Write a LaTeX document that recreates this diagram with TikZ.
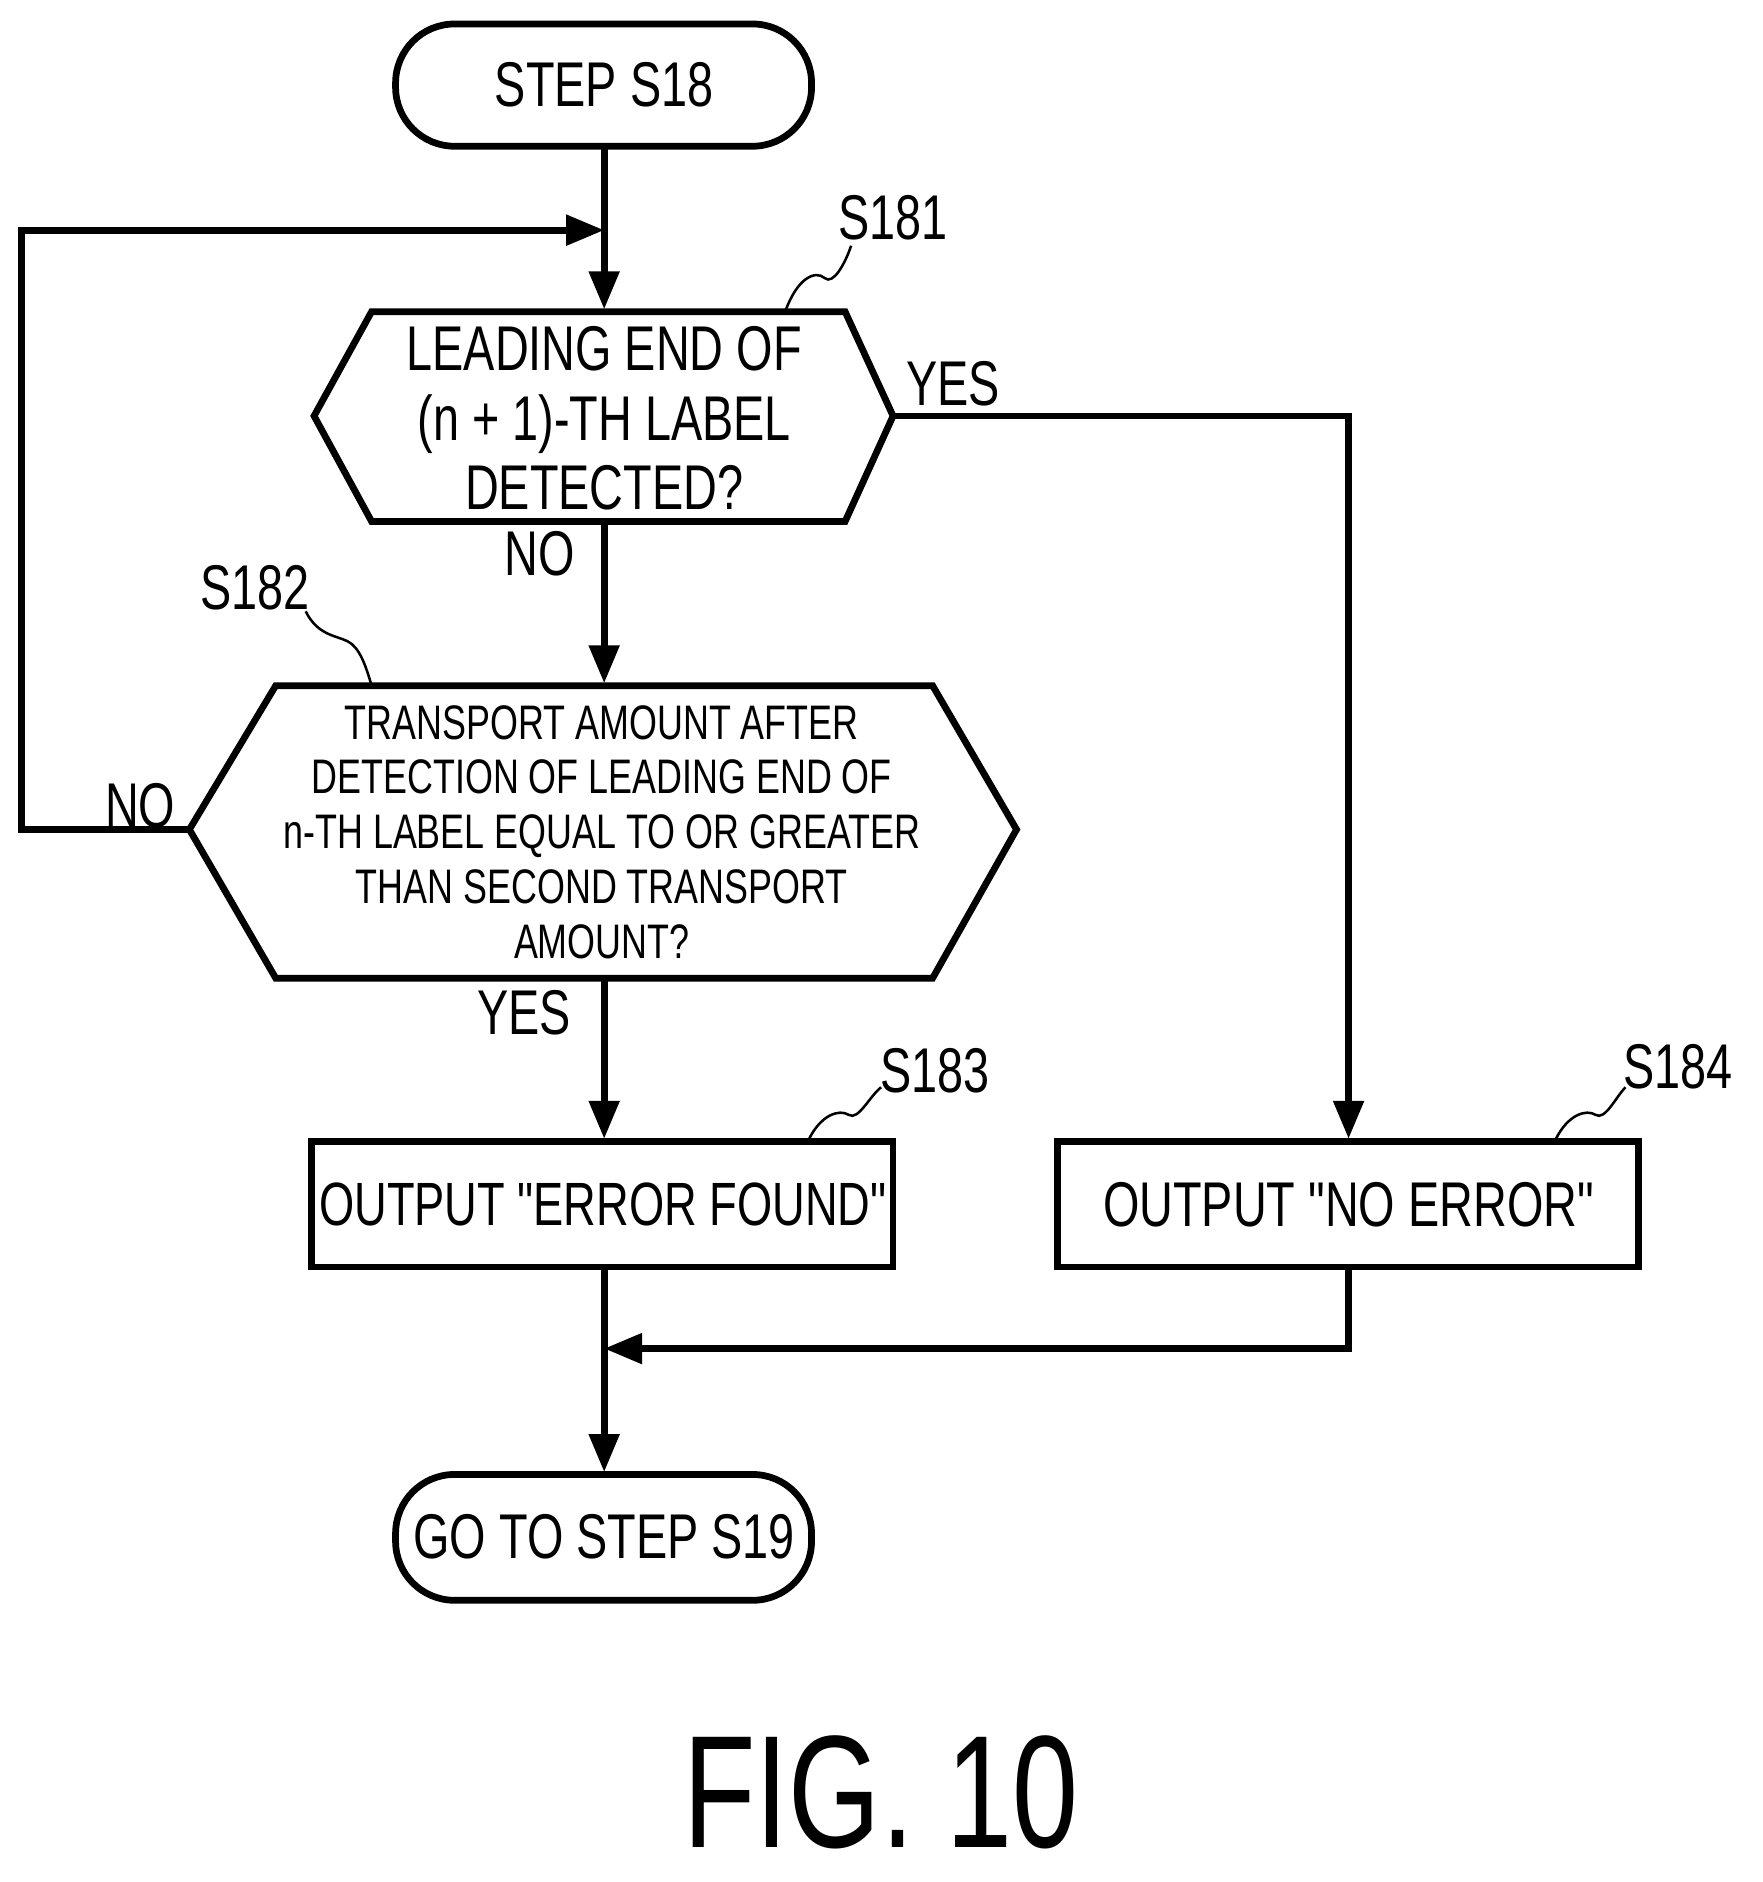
\documentclass[tikz,border=0pt]{standalone}
\usepackage{fontspec}
\setmainfont[FakeStretch=0.74]{Liberation Sans}
\newfontfamily\plainq[FakeStretch=0.74]{Liberation Sans}
\usetikzlibrary{arrows.meta}
\begin{document}
\begin{tikzpicture}[x=0.01cm,y=-0.01cm,
  line/.style={line width=1.6pt},
  arr/.style={line, -{Triangle[length=9pt,width=7pt]}},
  txt/.style={font=\fontsize{15}{16.5}\selectfont, inner sep=0pt, align=center},
  small/.style={font=\fontsize{11.5}{13}\selectfont, inner sep=0pt, align=center},
  lab/.style={font=\fontsize{15}{18}\selectfont, inner sep=0pt},
  sq/.style={line width=0.6pt}]
\useasboundingbox (0,0) rectangle (1470,1570);
% terminals
\draw[line, rounded corners=14pt] (330,20) rectangle (677,122);
\node[txt] (start) at (504,71) {STEP S18};
\draw[line, rounded corners=14pt] (330,1230) rectangle (677,1335);
\node[txt] (end) at (504,1282) {GO TO STEP S19};
% hexagon 1
\draw[line] (310,260) -- (705,260) -- (745,347) -- (705,435) -- (310,435) -- (262,347) -- cycle;
\node[txt] (d1) at (504,349) {LEADING END OF\\(n + 1)-TH LABEL\\DETECTED?};
% hexagon 2
\draw[line] (230,572) -- (778,572) -- (848,692) -- (778,816) -- (230,816) -- (158,692) -- cycle;
\node[small] (d2) at (502,694) {TRANSPORT AMOUNT AFTER\\DETECTION OF LEADING END OF\\n-TH LABEL EQUAL TO OR GREATER\\THAN SECOND TRANSPORT\\AMOUNT?};
% boxes
\draw[line] (260,952) rectangle (745,1057);
\node[txt, font=\plainq\fontsize{14.5}{16}\selectfont] (b1) at (503,1005) {OUTPUT "ERROR FOUND"};
\draw[line] (882,952) rectangle (1367,1057);
\node[txt, font=\plainq\fontsize{15}{16}\selectfont] (b2) at (1125,1005) {OUTPUT "NO ERROR"};
% coordinates
\coordinate (loop) at (504,192);
\coordinate (merge) at (504,1125);
% connectors
\draw[arr] (504,122) -- (504,258);
\draw[arr] (158,692) -- (18,692) -- (18,192) -- (loop);
\draw[arr] (504,435) -- (504,570);
\draw[arr] (745,347) -- (1125,347) -- (1125,950);
\draw[arr] (504,816) -- (504,950);
\draw[arr] (1125,1057) -- (1125,1125) -- (merge);
\draw[arr] (504,1057) -- (504,1228);
% branch labels
\node[lab] at (795,320) {YES};
\node[lab] at (450,462) {NO};
\node[lab] at (117,672) {NO};
\node[lab] at (437,845) {YES};
% step labels
\node[lab] at (745,182) {S181};
\node[lab] at (213,490) {S182};
\node[lab] at (780,893) {S183};
\node[lab] at (1400,890) {S184};
\draw[sq] (655,260) .. controls (665,232) and (680,225) .. (688,232) .. controls (695,238) and (705,220) .. (710,205);
\draw[sq] (255,510) .. controls (265,530) and (280,530) .. (290,535) .. controls (300,540) and (305,555) .. (310,572);
\draw[sq] (675,950) .. controls (685,930) and (700,925) .. (708,930) .. controls (716,935) and (725,915) .. (735,907);
\draw[sq] (1298,950) .. controls (1308,930) and (1323,925) .. (1331,930) .. controls (1339,935) and (1348,915) .. (1356,907);
\node[font=\fontsize{38}{42}\selectfont, inner sep=0pt] (fig) at (735,1495) {FIG. 10};
\end{tikzpicture}
\end{document}
